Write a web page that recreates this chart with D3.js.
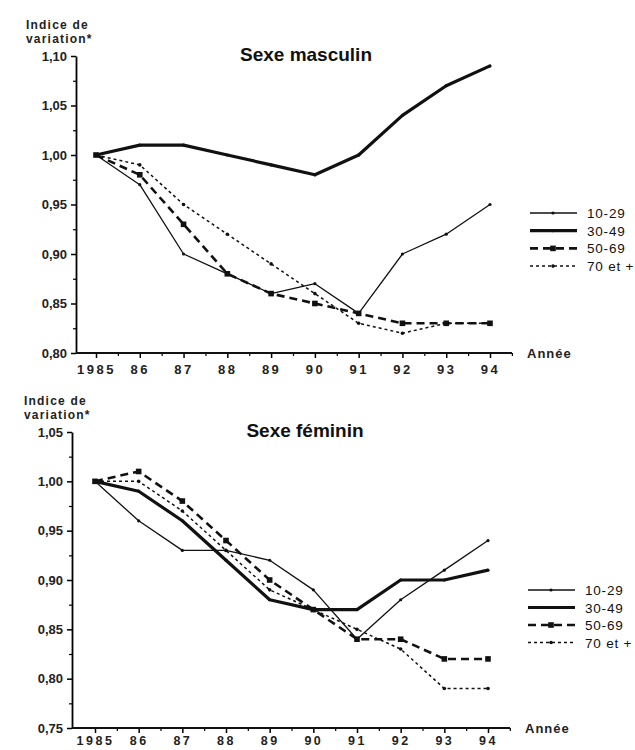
<!DOCTYPE html>
<html>
<head>
<meta charset="utf-8">
<script src="https://cdn.jsdelivr.net/npm/d3@7"></script>
<style>
  body { margin: 0; background: #fff; }
  svg { font-family: "Liberation Sans", Arial, Helvetica, sans-serif; }
</style>
</head>
<body>
<script>
// data
var years = [1985, 1986, 1987, 1988, 1989, 1990, 1991, 1992, 1993, 1994];
var yearLabels = ["1985", "86", "87", "88", "89", "90", "91", "92", "93", "94"];
var groups = ["10-29", "30-49", "50-69", "70 et +"];

var male1029 = [1.00, 0.97, 0.90, 0.88, 0.86, 0.87, 0.84, 0.90, 0.92, 0.95];
var male3049 = [1.00, 1.01, 1.01, 1.00, 0.99, 0.98, 1.00, 1.04, 1.07, 1.09];
var male5069 = [1.00, 0.98, 0.93, 0.88, 0.86, 0.85, 0.84, 0.83, 0.83, 0.83];
var male70 = [1.00, 0.99, 0.95, 0.92, 0.89, 0.86, 0.83, 0.82, 0.83, 0.83];

var female1029 = [1.00, 0.96, 0.93, 0.93, 0.92, 0.89, 0.84, 0.88, 0.91, 0.94];
var female3049 = [1.00, 0.99, 0.96, 0.92, 0.88, 0.87, 0.87, 0.90, 0.90, 0.91];
var female5069 = [1.00, 1.01, 0.98, 0.94, 0.90, 0.87, 0.84, 0.84, 0.82, 0.82];
var female70 = [1.00, 1.00, 0.97, 0.93, 0.89, 0.87, 0.85, 0.83, 0.79, 0.79];

var maleTicks = [0.80, 0.85, 0.90, 0.95, 1.00, 1.05, 1.10];
var femaleTicks = [0.75, 0.80, 0.85, 0.90, 0.95, 1.00, 1.05];

// line looks for each age group
var styles = [
  {w: 1.3, dash: null, marker: "dot", r: 1.6},
  {w: 3.2, dash: null, marker: "dot", r: 1.6},
  {w: 2.6, dash: "8,5", marker: "square", r: 2.8},
  {w: 1.5, dash: "3,3", marker: "dot", r: 1.8}
];

var svg = d3.select("body").append("svg")
  .attr("width", 635)
  .attr("height", 750);

var fmt = function(d) { return d3.format(".2f")(d).replace(".", ","); };

function drawPanel(p) {
  var g = svg.append("g");
  var x = d3.scaleLinear().domain([1985, 1994]).range([p.x0, p.x1]);
  var y = d3.scaleLinear().domain(d3.extent(p.ticks)).range([p.bottom, p.top]);

  // y axis, major + minor ticks
  var yAx = g.append("g").attr("transform", "translate(" + p.axisX + ",0)")
    .call(d3.axisLeft(y).tickValues(p.ticks).tickFormat(fmt).tickSize(5).tickPadding(4).tickSizeOuter(0));
  yAx.select(".domain").attr("stroke-width", 1.8);
  yAx.selectAll(".tick line").attr("stroke-width", 1.5);
  yAx.selectAll("text").attr("font-size", 13).attr("font-weight", "bold").attr("fill", "#222");
  var minorY = p.ticks.slice(0, -1).map(function(d) { return d + 0.025; });
  g.append("g").attr("transform", "translate(" + p.axisX + ",0)")
    .call(d3.axisLeft(y).tickValues(minorY).tickFormat("").tickSize(3).tickSizeOuter(0))
    .call(function(s) { s.select(".domain").remove(); s.selectAll("line").attr("stroke-width", 1.2); });

  // x axis
  var xAx = g.append("g").attr("transform", "translate(0," + p.bottom + ")")
    .call(d3.axisBottom(x).tickValues(years).tickFormat(function(d, i) { return yearLabels[i]; })
      .tickSize(5).tickPadding(p.xPad));
  xAx.select(".domain").remove();
  xAx.selectAll(".tick line").attr("stroke-width", 1.5);
  xAx.selectAll("text").attr("font-size", p.xFont).attr("font-weight", "bold")
    .attr("letter-spacing", "2.5px").attr("fill", "#222");
  var minorX = years.map(function(d) { return d + 0.5; });
  g.append("g").attr("transform", "translate(0," + p.bottom + ")")
    .call(d3.axisBottom(x).tickValues(minorX).tickFormat("").tickSize(3))
    .call(function(s) { s.select(".domain").remove(); s.selectAll("line").attr("stroke-width", 1.2); });
  g.append("line")
    .attr("x1", p.axisX).attr("x2", p.axisEnd)
    .attr("y1", p.bottom).attr("y2", p.bottom)
    .attr("stroke", "#111").attr("stroke-width", 1.8);

  // axis titles
  var yt = g.append("text").attr("font-size", 12).attr("font-weight", "bold")
    .attr("letter-spacing", "1.2px").attr("fill", "#222");
  yt.append("tspan").attr("x", p.labelX).attr("y", p.top - 27).text("Indice de");
  yt.append("tspan").attr("x", p.labelX).attr("y", p.top - 13).text("variation*");
  g.append("text").attr("x", p.axisEnd + 15).attr("y", p.bottom + 5)
    .attr("font-size", 13).attr("font-weight", "bold").attr("letter-spacing", "1px")
    .attr("fill", "#222").text("Année");
  g.append("text").attr("x", p.titleX).attr("y", p.top + 5)
    .attr("text-anchor", "middle").attr("font-size", 19).attr("font-weight", "bold")
    .attr("fill", "#111").text(p.title);

  // series
  var line = d3.line().x(function(d, i) { return x(years[i]); }).y(function(d) { return y(d); });
  p.series.forEach(function(vals, k) {
    var st = styles[k];
    var sg = g.append("g");
    sg.append("path").attr("d", line(vals)).attr("fill", "none")
      .attr("stroke", "#111").attr("stroke-width", st.w)
      .attr("stroke-dasharray", st.dash).attr("stroke-linejoin", "round");
    drawMarkers(sg, vals.map(function(v, i) { return [x(years[i]), y(v)]; }), st);
  });

  // legend
  groups.forEach(function(name, k) {
    var st = styles[k];
    var ly = p.legY + k * p.legStep;
    var lg = g.append("g");
    lg.append("line").attr("x1", p.legX).attr("x2", p.legX + 47)
      .attr("y1", ly).attr("y2", ly).attr("stroke", "#111")
      .attr("stroke-width", st.w).attr("stroke-dasharray", st.dash);
    drawMarkers(lg, [[p.legX + 23, ly]], st);
    lg.append("text").attr("x", p.legX + 57).attr("y", ly + 5)
      .attr("font-size", 13.5).attr("letter-spacing", "0.8px").attr("fill", "#111").text(name);
  });
}

function drawMarkers(sel, pts, st) {
  if (st.marker === "square") {
    sel.selectAll("rect.m").data(pts).enter().append("rect").attr("class", "m")
      .attr("x", function(d) { return d[0] - st.r; }).attr("y", function(d) { return d[1] - st.r; })
      .attr("width", st.r * 2).attr("height", st.r * 2).attr("fill", "#111");
  } else {
    sel.selectAll("circle.m").data(pts).enter().append("circle").attr("class", "m")
      .attr("cx", function(d) { return d[0]; }).attr("cy", function(d) { return d[1]; })
      .attr("r", st.r).attr("fill", "#111");
  }
}

drawPanel({
  title: "Sexe masculin", titleX: 306,
  ticks: maleTicks, top: 56, bottom: 353,
  axisX: 76, axisEnd: 512, x0: 96, x1: 490, labelX: 26,
  xPad: 7, xFont: 13,
  series: [male1029, male3049, male5069, male70],
  legX: 530, legY: 213, legStep: 17.7
});

drawPanel({
  title: "Sexe féminin", titleX: 305,
  ticks: femaleTicks, top: 432, bottom: 728,
  axisX: 72, axisEnd: 510, x0: 95, x1: 488, labelX: 24,
  xPad: 3, xFont: 12.5,
  series: [female1029, female3049, female5069, female70],
  legX: 528, legY: 590, legStep: 17.5
});
</script>
</body>
</html>
